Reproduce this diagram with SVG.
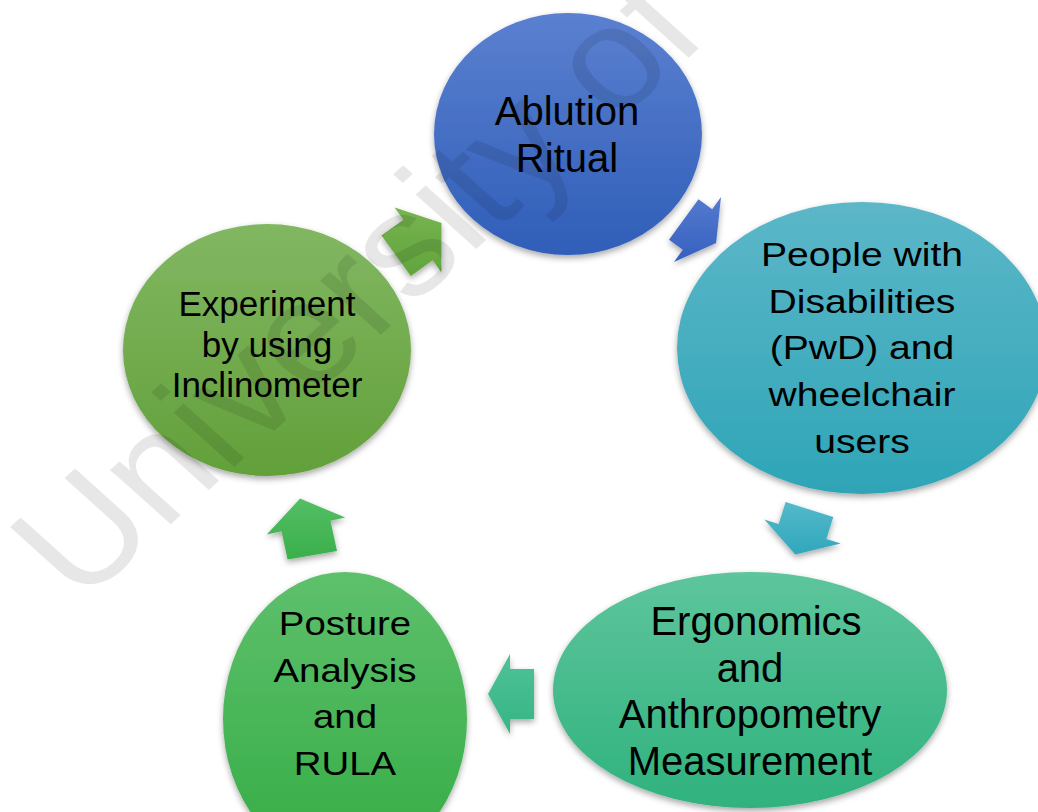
<svg xmlns="http://www.w3.org/2000/svg" width="1038" height="812" viewBox="0 0 1038 812">
  <defs>
    <style>
      .lbl { font-family: "Liberation Sans", Arial, sans-serif; fill: #000; text-anchor: middle; }
      .f40 { font-size: 40px; }
      .f35 { font-size: 35px; }
      .f34 { font-size: 34px; }
      .node { filter: url(#shadow); }
      .arrow { filter: url(#shadow); }
      .mark { font-family: "Liberation Sans", Arial, sans-serif; font-size: 146px; fill: #000; }
    </style>
    <filter id="shadow" x="-20%" y="-20%" width="140%" height="140%">
      <feDropShadow dx="0" dy="3" stdDeviation="3" flood-color="#000" flood-opacity="0.35"/>
    </filter>
    <linearGradient id="gBlue" x1="0" y1="0" x2="0" y2="1">
      <stop offset="0" stop-color="#5B80D0"/>
      <stop offset="1" stop-color="#2F5EB8"/>
    </linearGradient>
    <linearGradient id="gCyan" x1="0" y1="0" x2="0" y2="1">
      <stop offset="0" stop-color="#5CB7C8"/>
      <stop offset="1" stop-color="#2EA5B7"/>
    </linearGradient>
    <linearGradient id="gTeal" x1="0" y1="0" x2="0" y2="1">
      <stop offset="0" stop-color="#5EC59C"/>
      <stop offset="1" stop-color="#2FB27E"/>
    </linearGradient>
    <linearGradient id="gGreen" x1="0" y1="0" x2="0" y2="1">
      <stop offset="0" stop-color="#5EC06C"/>
      <stop offset="1" stop-color="#34AC44"/>
    </linearGradient>
    <linearGradient id="gOlive" x1="0" y1="0" x2="0" y2="1">
      <stop offset="0" stop-color="#82B762"/>
      <stop offset="1" stop-color="#62A03A"/>
    </linearGradient>
    <linearGradient id="aBlue" x1="0" y1="0" x2="0" y2="1">
      <stop offset="0" stop-color="#547ACE"/>
      <stop offset="1" stop-color="#3560C0"/>
    </linearGradient>
    <linearGradient id="aCyan" x1="0" y1="0" x2="0" y2="1">
      <stop offset="0" stop-color="#55B9CB"/>
      <stop offset="1" stop-color="#30A7BC"/>
    </linearGradient>
    <linearGradient id="aTeal" x1="0" y1="0" x2="0" y2="1">
      <stop offset="0" stop-color="#4FC298"/>
      <stop offset="1" stop-color="#35B584"/>
    </linearGradient>
    <linearGradient id="aGreen" x1="0" y1="0" x2="0" y2="1">
      <stop offset="0" stop-color="#54BE64"/>
      <stop offset="1" stop-color="#3AAF4A"/>
    </linearGradient>
    <linearGradient id="aOlive" x1="0" y1="0" x2="0" y2="1">
      <stop offset="0" stop-color="#76B450"/>
      <stop offset="1" stop-color="#61A43C"/>
    </linearGradient>
  </defs>

  <rect width="1038" height="812" fill="#fff"/>

  <!-- cycle arrows -->
  <g id="connectors">
    <polygon class="arrow" fill="url(#aBlue)" points="698.5,199.3 712.2,209.3 721,197.1 716.1,243 674,261.9 682.8,249.7 669,239.7"/>
    <polygon class="arrow" fill="url(#aCyan)" points="833.3,517.1 826.4,539 840.7,543.5 795.3,554.4 764.3,519.5 778.7,524 785.6,502"/>
    <polygon class="arrow" fill="url(#aTeal)" points="534,719 510,719 510,734 488,694 510,654 510,669 534,669"/>
    <polygon class="arrow" fill="url(#aGreen)" points="287.6,559.6 281.5,531.2 266.8,534.4 300.1,498.6 345.2,517.6 330.5,520.8 337,551"/>
    <polygon class="arrow" fill="url(#aOlive)" points="381.5,235.6 403.4,219.8 394.6,207.6 441.5,223 441.4,272.4 432.7,260.3 410.8,276"/>
  </g>

  <g id="ablution">
    <ellipse class="node" cx="568" cy="134" rx="134" ry="121" fill="url(#gBlue)"/>
    <text class="lbl f40" x="567" y="125">Ablution</text>
    <text class="lbl f40" x="567" y="172">Ritual</text>
  </g>

  <g id="pwd">
    <ellipse class="node" cx="862" cy="348" rx="185" ry="146" fill="url(#gCyan)"/>
    <g transform="translate(862 0) scale(1.15 1)">
      <text class="lbl f34" x="0" y="266">People with</text>
      <text class="lbl f34" x="0" y="312.7">Disabilities</text>
      <text class="lbl f34" x="0" y="359.4">(PwD) and</text>
      <text class="lbl f34" x="0" y="406.1">wheelchair</text>
      <text class="lbl f34" x="0" y="452.8">users</text>
    </g>
  </g>

  <g id="ergonomics">
    <ellipse class="node" cx="750" cy="690" rx="197" ry="118" fill="url(#gTeal)"/>
    <text class="lbl f40" x="756" y="635">Ergonomics</text>
    <text class="lbl f40" x="750" y="681.7">and</text>
    <text class="lbl f40" x="750" y="728.3">Anthropometry</text>
    <text class="lbl f40" x="750" y="775">Measurement</text>
  </g>

  <g id="posture">
    <ellipse class="node" cx="345" cy="719" rx="122" ry="147" fill="url(#gGreen)"/>
    <g transform="translate(345 0) scale(1.13 1)">
      <text class="lbl f34" x="0" y="635">Posture</text>
      <text class="lbl f34" x="0" y="681.7">Analysis</text>
      <text class="lbl f34" x="0" y="728.3">and</text>
      <text class="lbl f34" x="0" y="775">RULA</text>
    </g>
  </g>

  <g id="experiment">
    <ellipse class="node" cx="267" cy="350" rx="144" ry="126" fill="url(#gOlive)"/>
    <text class="lbl f35" x="267" y="316">Experiment</text>
    <text class="lbl f35" x="267" y="356.5">by using</text>
    <text class="lbl f35" x="267" y="397">Inclinometer</text>
  </g>

  <!-- faint diagonal watermark laid over the page -->
  <g opacity="0.09" transform="translate(80 606) scale(1.11 1) rotate(-45)">
    <text class="mark" x="0" y="0">University of</text>
  </g>
</svg>
